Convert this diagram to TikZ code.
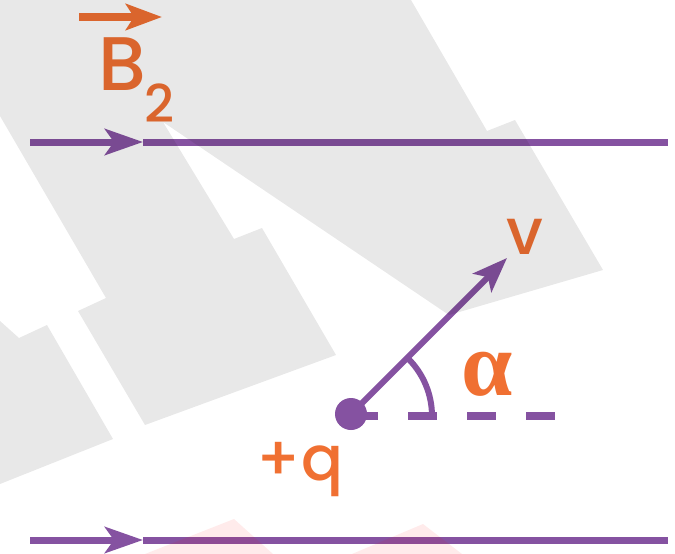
\documentclass[tikz,border=0pt]{standalone}
\usepackage{fontspec}
\setmainfont{Poppins}[BoldFont={Poppins Medium}]
\newfontfamily\grk{Liberation Serif}
\usetikzlibrary{arrows.meta}
\definecolor{pur}{HTML}{8552A1}
\definecolor{ora}{HTML}{F07032}
\tikzset{
  fieldline/.style={draw=pur, line width=7pt},
  fieldarrow/.style={draw=pur, line width=7pt, -{Stealth[length=38pt,width=26pt,inset=9pt]}},
  lbl/.style={text=ora, inner sep=0pt, outer sep=0pt},
  shade/.style={fill=black, fill opacity=0.09, draw=none},
  pinkshade/.style={fill=red, fill opacity=0.08, draw=none}
}
\begin{document}
\begin{tikzpicture}[x=1pt,y=-1pt]
\useasboundingbox (0,0) rectangle (675,554);
\fill[white] (0,0) rectangle (675,554);
% field lines
\coordinate (t0) at (30,142); \coordinate (t1) at (143,142); \coordinate (t2) at (668,142);
\coordinate (b0) at (30,540); \coordinate (b1) at (143,540); \coordinate (b2) at (668,540);
\draw[fieldarrow] (t0) -- (t1);
\draw[fieldline] (t1) -- (t2);
\draw[fieldarrow] (b0) -- (b1);
\draw[fieldline] (b1) -- (b2);
% B2 label
\coordinate (ba0) at (79,17); \coordinate (ba1) at (162,17);
\draw[draw=ora, line width=8pt, -{Stealth[length=36pt,width=26pt,inset=8pt]}] (ba0) -- (ba1);
\node[lbl, font=\bfseries\fontsize{76}{80}\selectfont] (B) at (122,64) {B};
\node[lbl, font=\bfseries\fontsize{52}{56}\selectfont] (two) at (160,103) {2};
% charge and velocity
\coordinate (q) at (351,414);
\coordinate (dend) at (556,416);
\coordinate (vt) at (507,258);
\draw[pur, line width=8pt, dash pattern=on 29pt off 30pt, dash phase=2pt] (351,416) -- (dend);
\draw[pur, line width=6pt] ([shift={(0:81pt)}]351,416) arc[start angle=0, end angle=45, radius=81pt];
\draw[pur, line width=6pt, -{Stealth[length=35pt,width=26pt,inset=8pt]}] (q) -- (vt);
\fill[pur] (q) circle[radius=16pt];
\node[lbl, font=\bfseries\fontsize{64}{68}\selectfont] (v) at (525,237) {v};
\node[lbl, font=\grk\bfseries\fontsize{92}{100}\selectfont] (alpha) at (487,374) {α};
\node[lbl, font=\bfseries\fontsize{62}{66}\selectfont] (plusq) at (300,470) {+q};
% overlays
\path[shade] (0,0) -- (411,0) -- (487,131) -- (515,120) -- (603,270) -- (449,315) -- (163,122) -- (234,239) -- (262,228) -- (336,355) -- (145,425) -- (78,311) -- (106,298) -- (0,116) -- cycle;
\path[shade] (0,321) -- (19,338) -- (47,325) -- (113,439) -- (0,484) -- cycle;
\path[pinkshade] (145,554) -- (234,519) -- (273,554) -- cycle;
\path[pinkshade] (352,554) -- (423,524) -- (462,554) -- cycle;
\end{tikzpicture}
\end{document}
